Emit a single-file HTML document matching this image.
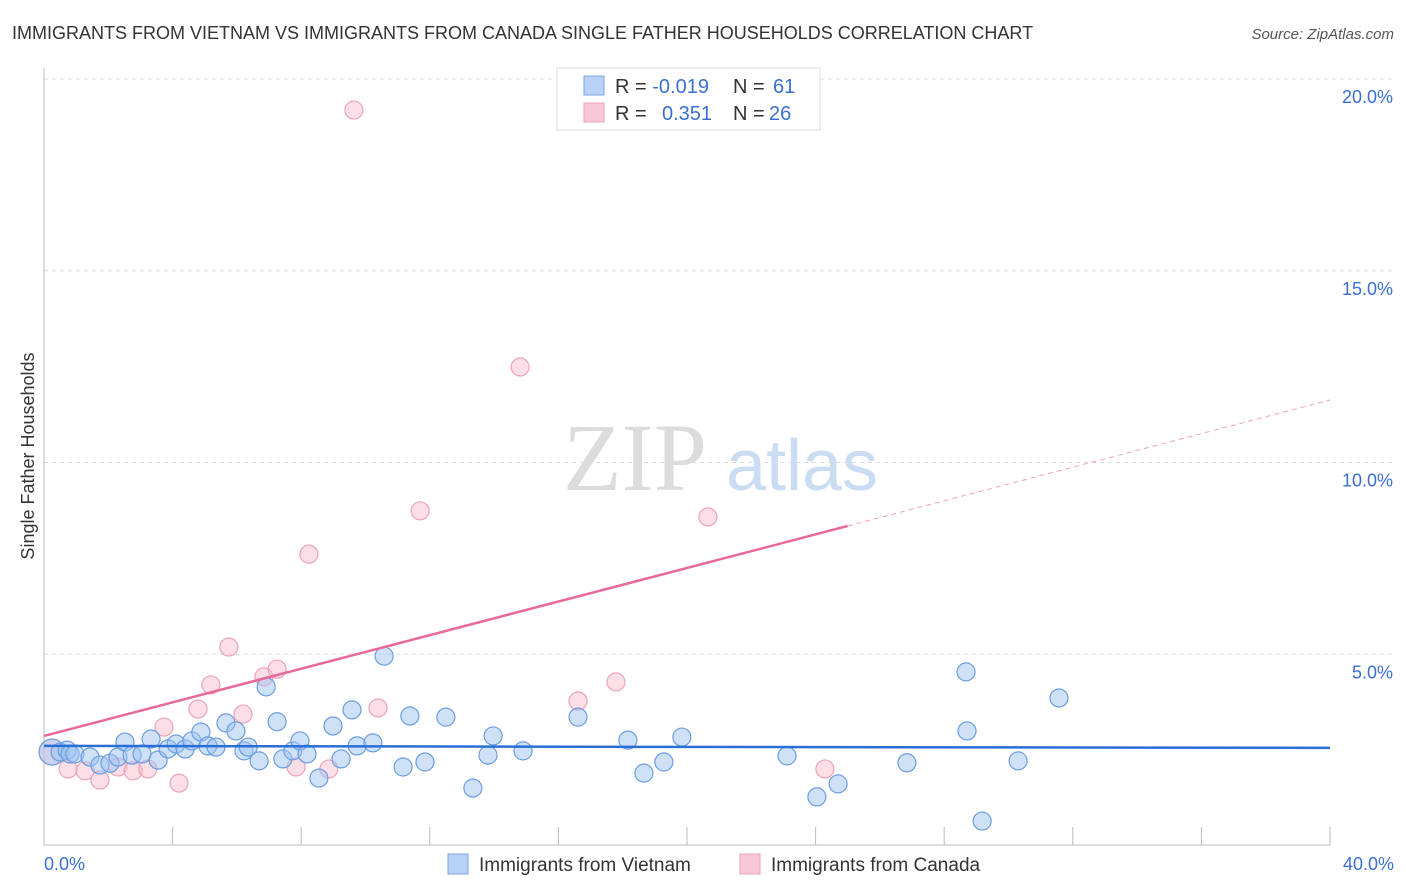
<!DOCTYPE html>
<html><head><meta charset="utf-8"><style>
body{margin:0;background:#fff;font-family:"Liberation Sans",sans-serif}
</style></head><body>
<svg id="c" width="1406" height="892" xmlns="http://www.w3.org/2000/svg" style="display:block">
<text x="12" y="39" font-size="18" fill="#333">IMMIGRANTS FROM VIETNAM VS IMMIGRANTS FROM CANADA SINGLE FATHER HOUSEHOLDS CORRELATION CHART</text>
<text x="1394" y="39" font-size="15" fill="#555" font-style="italic" text-anchor="end">Source: ZipAtlas.com</text>
<text x="34" y="456" font-size="18" fill="#333" text-anchor="middle" transform="rotate(-90 34 456)">Single Father Households</text>
<g>
<text x="635" y="490" font-size="96" font-family="Liberation Serif,serif" fill="#dcdcdc" text-anchor="middle">ZIP</text>
<text x="802" y="490" font-size="72" fill="#c9dcf2" text-anchor="middle">atlas</text>
</g>
<g id="grid"></g><g id="axes"></g><g id="marks"></g>
<g>
<rect x="557" y="68" width="263" height="62" fill="#fff" stroke="#ddd"/>
<rect x="584" y="76" width="20" height="19" fill="#b8d2f5" stroke="#7ba6e6"/>
<rect x="584" y="103" width="20" height="19" fill="#f8c8d6" stroke="#eea0b8"/>
<text x="615" y="93" font-size="20" fill="#333">R = <tspan fill="#3b6fd4">-0.019</tspan><tspan x="733">N = </tspan><tspan x="773" fill="#3b6fd4">61</tspan></text>
<text x="615" y="120" font-size="20" fill="#333">R = <tspan x="662" fill="#3b6fd4">0.351</tspan><tspan x="733">N = </tspan><tspan x="769" fill="#3b6fd4">26</tspan></text>
</g>
<g>
<rect x="448" y="854" width="20" height="20" fill="#b8d2f5" stroke="#7ba6e6"/>
<text x="479" y="871" font-size="19" fill="#333">Immigrants from Vietnam</text>
<rect x="740" y="854" width="20" height="20" fill="#f8c8d6" stroke="#eea0b8"/>
<text x="771" y="871" font-size="19" fill="#333">Immigrants from Canada</text>
</g>
</svg>
<script>
const yTicks=[5,10,15,20];
const yTickLabels=["5.0%","10.0%","15.0%","20.0%"];
const xTickLabels=["0.0%","40.0%"];
const blueX=[0.25,0.5,0.72,0.81,0.96,1.43,1.74,2.05,2.3,2.52,2.74,3.05,3.33,3.55,3.86,4.11,4.39,4.6,4.88,5.1,5.35,5.66,5.97,6.22,6.35,6.69,6.91,7.25,7.43,7.74,7.96,8.18,8.55,8.99,9.24,9.58,9.74,10.23,10.58,11.17,11.38,11.85,12.5,13.34,13.81,13.97,14.9,16.61,18.16,18.66,19.28,19.84,23.11,24.04,24.7,26.84,28.68,28.71,29.18,30.3,31.57];
const blueY=[2.45,2.45,2.5,2.4,2.4,2.32,2.11,2.16,2.32,2.71,2.37,2.4,2.79,2.24,2.53,2.66,2.53,2.74,2.97,2.61,2.58,3.21,3.0,2.48,2.58,2.22,4.15,3.24,2.27,2.48,2.74,2.4,1.77,3.13,2.27,3.55,2.61,2.69,4.95,2.06,3.39,2.19,3.36,1.51,2.37,2.87,2.48,3.36,2.76,1.9,2.19,2.84,2.35,1.28,1.62,2.17,4.54,3.0,0.65,2.22,3.86];
const pinkX=[0.25,0.75,1.28,1.74,2.3,2.77,3.23,3.73,4.2,4.79,5.19,5.75,6.19,6.84,7.25,7.84,8.24,8.86,9.64,10.39,11.7,14.81,16.61,17.79,20.65,24.29];
const pinkY=[2.45,2.01,1.96,1.72,2.06,1.96,2.01,3.1,1.64,3.57,4.2,5.19,3.44,4.41,4.61,2.06,7.61,2.01,19.19,3.6,8.74,12.49,3.78,4.28,8.58,2.01];
const blueTrend=[2.61,-0.0013];
const pinkTrend=[2.87,0.219];
const NS="http://www.w3.org/2000/svg";
const X=v=>44+v*32.15, Y=v=>846-v*38.35;
function mk(p,t,a){const e=document.createElementNS(NS,t);for(const k in a)e.setAttribute(k,a[k]);p.appendChild(e);return e;}
const grid=document.getElementById('grid'),axes=document.getElementById('axes'),marks=document.getElementById('marks');
yTicks.forEach((t,i)=>{
 const l=mk(grid,'line',{x1:44,x2:1394,y1:Y(t),y2:Y(t),stroke:'#ddd','stroke-dasharray':'4,4'});
 
 
 const tx=mk(grid,'text',{x:1393,y:Y(t)+24,'font-size':18,fill:'#3b6fd4','text-anchor':'end'});
 tx.textContent=yTickLabels[i];
 
 
});
const ax=mk(axes,'path',{d:'M44 68V845H1330',stroke:'#bbb',fill:'none'});


for(let k=1;k<=10;k++){const t=mk(axes,'line',{x1:X(k*4),x2:X(k*4),y1:827,y2:845,stroke:'#bbb'});
 
 }
[[0,'start',44],[40,'end',1394]].forEach((d,i)=>{const t=mk(axes,'text',{x:d[2],y:870,'font-size':18,fill:'#3b6fd4','text-anchor':d[1]});t.textContent=xTickLabels[i];
 
 });
function pts(xs,ys,fill,stroke,name){xs.forEach((x,i)=>{const c=mk(marks,'circle',{cx:X(x),cy:Y(ys[i]),r:(i==0?13:9),fill:fill,stroke:stroke,'stroke-width':1.2});
 
 });}
pts(pinkX,pinkY,'rgba(248,190,206,0.5)','#eda3ba','point-canada');
pts(blueX,blueY,'rgba(160,196,240,0.5)','#6b9de2','point-vietnam');
const bl=mk(marks,'line',{x1:X(0),y1:Y(blueTrend[0]),x2:X(40),y2:Y(blueTrend[0]+40*blueTrend[1]),stroke:'#2a6fd6','stroke-width':2.5});


const pl=mk(marks,'line',{x1:X(0),y1:Y(pinkTrend[0]),x2:X(25),y2:Y(pinkTrend[0]+25*pinkTrend[1]),stroke:'#e8689a','stroke-width':2.5});


const pd=mk(marks,'line',{x1:X(25),y1:Y(pinkTrend[0]+25*pinkTrend[1]),x2:X(40),y2:Y(pinkTrend[0]+40*pinkTrend[1]),stroke:'#eda3ba','stroke-width':1,'stroke-dasharray':'5,4'});


</script>
</body></html>
